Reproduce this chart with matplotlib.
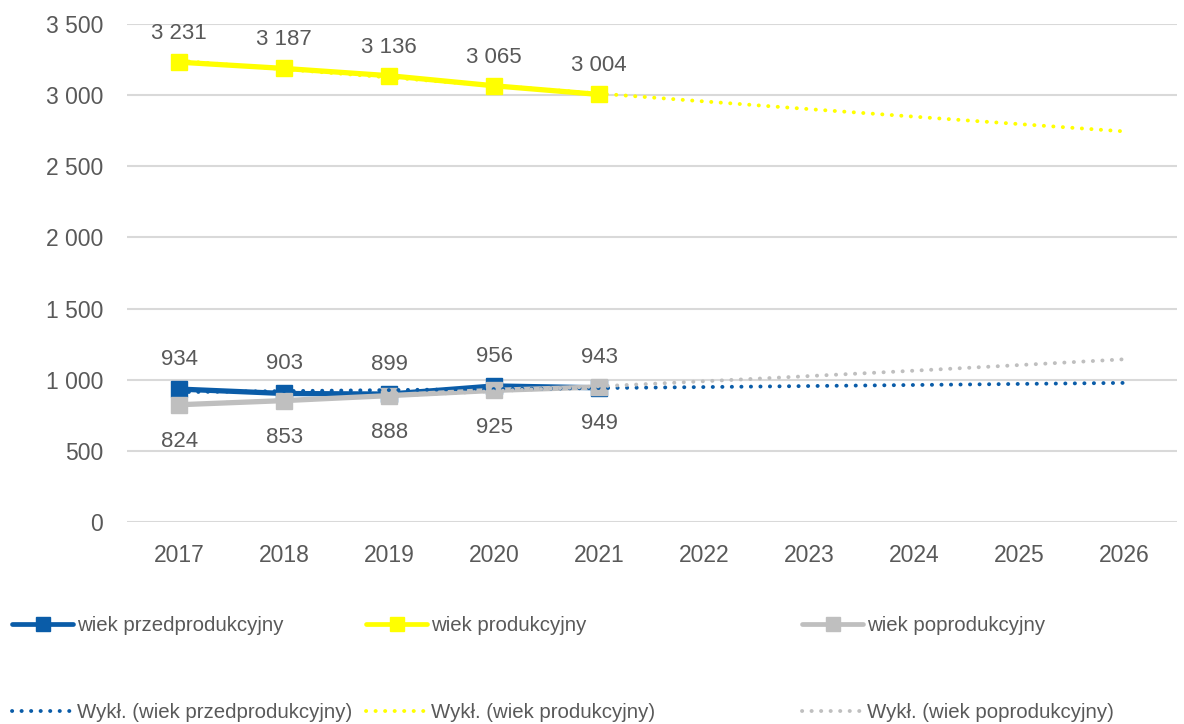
import numpy as np
import matplotlib
matplotlib.use('Agg')
import matplotlib.pyplot as plt
from matplotlib.lines import Line2D

plt.rcParams['font.family'] = ['Liberation Sans', 'DejaVu Sans']

years = ['2017', '2018', '2019', '2020', '2021', '2022', '2023', '2024', '2025', '2026']
n_obs = 5
przed = [934, 903, 899, 956, 943]
prod = [3231, 3187, 3136, 3065, 3004]
popr = [824, 853, 888, 925, 949]

names = ['wiek przedprodukcyjny', 'wiek produkcyjny', 'wiek poprodukcyjny']
colors = ['#0a5ca8', '#ffff00', '#bfbfbf']
label_side = ['above', 'above', 'below']
legend_x = [12, 366, 802]

text_col = '#595959'
grid_col = '#d9d9d9'
W, H = 1184, 724

fig = plt.figure(figsize=(W / 100, H / 100), dpi=100)
ax = fig.add_axes([0.107, 0.279, 0.887, 0.688])

x_obs = np.arange(n_obs)
x_all = np.arange(len(years))
x_fine = np.linspace(0, len(years) - 1, 200)
dots = (0, (0.05, 2.4))

for vals, name, col, side, lx in zip([przed, prod, popr], names, colors,
                                     label_side, legend_x):
    vals = np.array(vals, dtype=float)
    ax.plot(x_obs, vals, color=col, lw=3.8, marker='s', markersize=11,
            solid_joinstyle='round', solid_capstyle='round', zorder=3)

    # exponential trend (fit on log values), projected to the last year
    b, a = np.polyfit(x_obs + 1, np.log(vals), 1)
    trend = np.exp(a + b * (x_fine + 1))
    ax.plot(x_fine, trend, color=col, lw=2.8, linestyle=dots,
            dash_capstyle='round', zorder=4)

    for xi, v in zip(x_obs, vals):
        txt = f"{int(v):,}".replace(',', ' ')
        if side == 'above':
            off = 13 if v > 2000 else 14
            ax.annotate(txt, (xi, v), xytext=(0, off), textcoords='offset points',
                        ha='center', va='bottom', fontsize=16, color=text_col)
        else:
            ax.annotate(txt, (xi, v), xytext=(0, -19), textcoords='offset points',
                        ha='center', va='top', fontsize=16, color=text_col)

    # one legend column per series: series line on top, its trend below
    h1 = Line2D([], [], color=col, lw=3.4, marker='s', markersize=9.5,
                solid_capstyle='round')
    h2 = Line2D([], [], color=col, lw=2.8, linestyle=dots, dash_capstyle='round')
    fig.legend([h1, h2], [name, f'Wykł. ({name})'], loc='center left',
               bbox_to_anchor=(lx / W, 1 - 669 / H), frameon=False,
               fontsize=14.7, handlelength=3.0, handletextpad=0.2,
               labelspacing=3.3, borderpad=0, borderaxespad=0,
               labelcolor=text_col)

ax.set_xlim(-0.5, len(years) - 0.5)
ax.set_ylim(0, 3500)
ax.set_xticks(x_all)
ax.set_xticklabels(years)
ax.set_yticks(np.arange(0, 3501, 500))
ax.set_yticklabels([f"{v:,}".replace(',', ' ') for v in range(0, 3501, 500)])
ax.tick_params(length=0, labelsize=16.5, labelcolor=text_col)
ax.tick_params(axis='x', pad=16)
ax.tick_params(axis='y', pad=17)
ax.grid(axis='y', color=grid_col, lw=1.5)
ax.set_axisbelow(True)
for s in ax.spines.values():
    s.set_visible(False)

fig.savefig('out.png', dpi=100, facecolor='white')
